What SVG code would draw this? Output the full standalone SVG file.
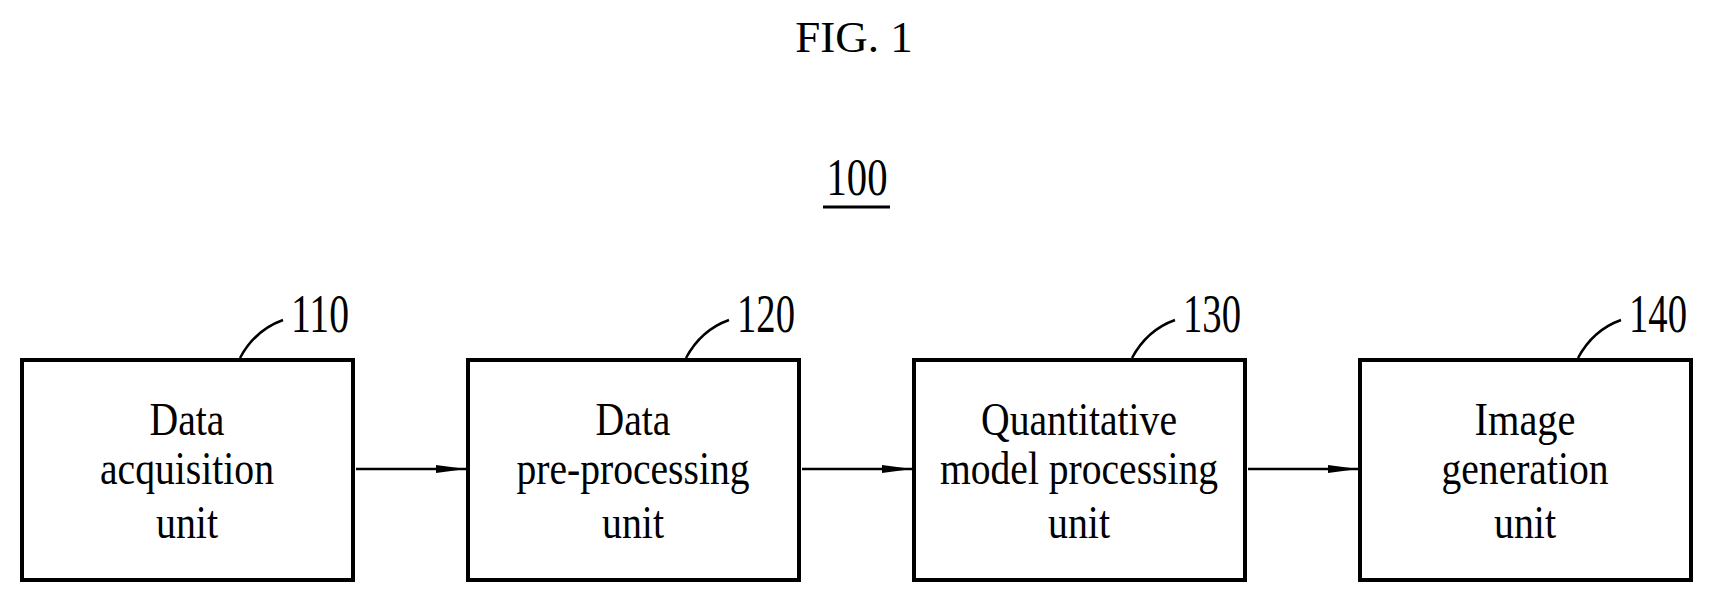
<svg xmlns="http://www.w3.org/2000/svg" width="1714" height="602" viewBox="0 0 1714 602">
<style>
text{font-family:"Liberation Serif","Times New Roman",serif;fill:#000}
.t{font-size:46px;text-anchor:middle}
.n{font-size:54px}
.box{fill:#fff;stroke:#000;stroke-width:4}
.ld{fill:none;stroke:#000;stroke-width:2.5}
.c{stroke:#000;stroke-width:2.5;fill:none}
</style>
<defs><marker id="ah" markerWidth="30" markerHeight="10" refX="30" refY="5" orient="auto" markerUnits="userSpaceOnUse"><path d="M0,1 L30,5 L0,9 Z" fill="#000"/></marker></defs>
<rect width="1714" height="602" fill="#fff"/>
<text x="854" y="52" style="font-size:45px" text-anchor="middle">FIG. 1</text>
<text x="857" y="195" style="font-size:52px" text-anchor="middle" textLength="61" lengthAdjust="spacingAndGlyphs">100</text>
<line x1="823" y1="207" x2="890" y2="207" stroke="#000" stroke-width="3"/>
<g id="n110">
<rect class="box" x="22" y="360" width="331" height="220"/>
<path class="ld" d="M240,358 Q255,330 283,320"/>
<text class="n" x="291" y="332" textLength="58" lengthAdjust="spacingAndGlyphs">110</text>
<text class="t" x="187" y="435" textLength="75" lengthAdjust="spacingAndGlyphs">Data</text>
<text class="t" x="187" y="484" textLength="174" lengthAdjust="spacingAndGlyphs">acquisition</text>
<text class="t" x="187" y="538" textLength="62" lengthAdjust="spacingAndGlyphs">unit</text>
</g>
<g id="n120">
<rect class="box" x="468" y="360" width="331" height="220"/>
<path class="ld" d="M686,358 Q701,330 729,320"/>
<text class="n" x="737" y="332" textLength="58" lengthAdjust="spacingAndGlyphs">120</text>
<text class="t" x="633" y="435" textLength="75" lengthAdjust="spacingAndGlyphs">Data</text>
<text class="t" x="633" y="484" textLength="233" lengthAdjust="spacingAndGlyphs">pre-processing</text>
<text class="t" x="633" y="538" textLength="62" lengthAdjust="spacingAndGlyphs">unit</text>
</g>
<g id="n130">
<rect class="box" x="914" y="360" width="331" height="220"/>
<path class="ld" d="M1132,358 Q1147,330 1175,320"/>
<text class="n" x="1183" y="332" textLength="58" lengthAdjust="spacingAndGlyphs">130</text>
<text class="t" x="1079" y="435" textLength="196" lengthAdjust="spacingAndGlyphs">Quantitative</text>
<text class="t" x="1079" y="484" textLength="278" lengthAdjust="spacingAndGlyphs">model processing</text>
<text class="t" x="1079" y="538" textLength="62" lengthAdjust="spacingAndGlyphs">unit</text>
</g>
<g id="n140">
<rect class="box" x="1360" y="360" width="331" height="220"/>
<path class="ld" d="M1578,358 Q1593,330 1621,320"/>
<text class="n" x="1629" y="332" textLength="58" lengthAdjust="spacingAndGlyphs">140</text>
<text class="t" x="1525" y="435" textLength="101" lengthAdjust="spacingAndGlyphs">Image</text>
<text class="t" x="1525" y="484" textLength="167" lengthAdjust="spacingAndGlyphs">generation</text>
<text class="t" x="1525" y="538" textLength="62" lengthAdjust="spacingAndGlyphs">unit</text>
</g>
<g id="connectors">
<line class="c" x1="356" y1="469" x2="466" y2="469" marker-end="url(#ah)"/>
<line class="c" x1="802" y1="469" x2="912" y2="469" marker-end="url(#ah)"/>
<line class="c" x1="1248" y1="469" x2="1358" y2="469" marker-end="url(#ah)"/>
</g>
</svg>
